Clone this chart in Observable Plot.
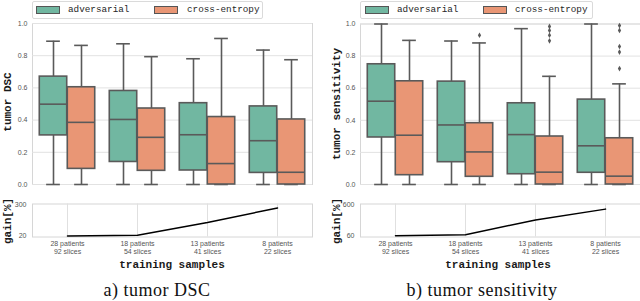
<!DOCTYPE html>
<html><head><meta charset="utf-8">
<script src="https://cdn.jsdelivr.net/npm/d3@7"></script>
<script src="https://cdn.jsdelivr.net/npm/@observablehq/plot@0.6"></script>
<style>
html,body{margin:0;padding:0;background:#fff;}
#wrap{position:relative;width:640px;height:301px;overflow:hidden;background:#fff;}
.abs{position:absolute;}
.rot{position:absolute;transform:translate(-50%,-50%) rotate(-90deg);white-space:nowrap;font:bold 11px "Liberation Mono","DejaVu Sans Mono",monospace;color:#1a1a1a;}
.xl{position:absolute;transform:translate(-50%,-50%);white-space:nowrap;font:bold 11px "Liberation Mono","DejaVu Sans Mono",monospace;color:#1a1a1a;}
.cap{position:absolute;transform:translateX(-50%);white-space:nowrap;font:18px "Liberation Serif","DejaVu Serif",serif;letter-spacing:0.5px;color:#111;}
.leg{position:absolute;top:0.5px;height:18px;border:1px solid #dadada;border-radius:2px;background:#fff;box-sizing:border-box;}
.sw{position:absolute;height:8px;border:1px solid #555;box-sizing:border-box;}
.lt{position:absolute;font:9.3px "Liberation Mono","DejaVu Sans Mono",monospace;color:#262626;white-space:nowrap;line-height:1;}
</style></head><body><div id="wrap"></div>
<script>
// ---- data ----
const patients = [28, 18, 13, 8];
const slices = [92, 54, 41, 22];
const methods = ["adversarial", "cross-entropy"];
const colors = ["#71b7a1", "#e99675"];
// each row: [lower whisker, Q1, median, Q3, upper whisker]
const dscAdversarial = [[0,0.305,0.499,0.670,0.890],[0,0.140,0.404,0.581,0.874],[0,0.087,0.309,0.505,0.781],[0,0.072,0.272,0.485,0.835]];
const dscCrossEntropy = [[0,0.097,0.386,0.604,0.864],[0,0.085,0.293,0.472,0.794],[0,0,0.130,0.419,0.907],[0,0,0.076,0.404,0.775]];
const sensAdversarial = [[0,0.293,0.519,0.749,1.0],[0,0.139,0.371,0.641,0.894],[0,0.064,0.311,0.506,0.971],[0,0.073,0.241,0.529,1.0]];
const sensCrossEntropy = [[0,0.058,0.307,0.643,0.898],[0,0.048,0.203,0.382,0.882],[0,0,0.077,0.299,0.674],[0,0,0.052,0.288,0.627]];
// outliers: [group index, value]
const sensCrossEntropyOutliers = [[1,0.93],[2,0.985],[2,0.96],[2,0.93],[2,0.895],[3,0.99],[3,0.96],[3,0.86],[3,0.825],[3,0.722]];
const gainDSC = [20, 25, 142, 274];
const gainSensitivity = [60, 80, 340, 530];
const yTicks = [0, 0.2, 0.4, 0.6, 0.8, 1.0];
const gainTicksDSC = [20, 300];
const gainTicksSens = [60, 600];

// ---- helpers ----
const groups = patients.map((p, i) => `${p} patients\n${slices[i]} slices`);
const rows = stats => stats.map((s, i) => ({g: groups[i], lo: s[0], q1: s[1], med: s[2], q3: s[3], hi: s[4]}));
const GRAY = "#5a5a5a";
const wrap = document.getElementById("wrap");

function place(el, left, top) {
  el.style.position = "absolute";
  el.style.left = left + "px";
  el.style.top = top + "px";
  wrap.appendChild(el);
}

function boxChart(adv, ce, outliers, marginLeft, marginTop) {
  const width = 320, marginRight = 320 - marginLeft - 280 > 0 ? 320 - marginLeft - 280 : 0;
  const bw = (width - marginLeft - marginRight) / 4;
  const marks = [
    Plot.frame({stroke: "#d6d6d6"}),
    Plot.ruleY(yTicks, {stroke: "#e2e2e2"})
  ];
  [adv, ce].forEach((stats, k) => {
    const data = rows(stats);
    const s = k ? 1 : -1;
    const boxIn = k ? {insetLeft: 0.504 * bw, insetRight: 0.104 * bw} : {insetLeft: 0.104 * bw, insetRight: 0.504 * bw};
    const capIn = k ? {insetLeft: 0.602 * bw, insetRight: 0.202 * bw} : {insetLeft: 0.202 * bw, insetRight: 0.602 * bw};
    const line = {stroke: GRAY, strokeWidth: 1.6};
    marks.push(
      Plot.ruleX(data, {x: "g", y1: "lo", y2: "q1", dx: s * 0.2 * bw, ...line}),
      Plot.ruleX(data, {x: "g", y1: "q3", y2: "hi", dx: s * 0.2 * bw, ...line}),
      Plot.tickY(data, {x: "g", y: "lo", ...capIn, ...line}),
      Plot.tickY(data, {x: "g", y: "hi", ...capIn, ...line}),
      Plot.barY(data, {x: "g", y1: "q1", y2: "q3", fill: colors[k], ...boxIn, ...line}),
      Plot.tickY(data, {x: "g", y: "med", ...boxIn, ...line})
    );
  });
  if (outliers) {
    marks.push(Plot.dot(outliers, {x: d => groups[d[0]], y: d => d[1], dx: 0.2 * bw, symbol: "diamond", r: 1.7, fill: GRAY, stroke: "none"}));
  }
  return Plot.plot({
    width, height: 190, marginLeft, marginRight, marginTop, marginBottom: 6,
    x: {type: "band", domain: groups, padding: 0, axis: null},
    y: {domain: [0, 1], ticks: yTicks, tickFormat: d3.format(".1f"), tickSize: 0, tickPadding: 5, label: null},
    style: {fontFamily: "Liberation Sans, Arial, sans-serif", fontSize: "7px", color: "#555", background: "transparent", overflow: "visible"},
    marks
  });
}

function gainChart(values, ticks, domain, marginLeft) {
  const marginRight = Math.max(0, 320 - marginLeft - 280);
  const data = values.map((v, i) => ({g: groups[i], v}));
  return Plot.plot({
    width: 320, height: 80, marginLeft, marginRight, marginTop: 8.5, marginBottom: 38.5,
    x: {type: "point", domain: groups, padding: 0.5, axis: null},
    y: {domain, ticks, tickFormat: d => String(d), tickSize: 0, tickPadding: 6, label: null},
    style: {fontFamily: "Liberation Sans, Arial, sans-serif", fontSize: "7px", color: "#555", background: "transparent", overflow: "visible"},
    marks: [
      Plot.frame({stroke: "#d6d6d6"}),
      Plot.ruleX(groups, {x: d => d, stroke: "#e0e0e0"}),
      Plot.line(data, {x: "g", y: "v", stroke: "#000", strokeWidth: 1.5}),
      Plot.text(groups, {x: d => d, frameAnchor: "bottom", lineAnchor: "top", dy: 3.5, text: d => d, fontSize: 7, lineHeight: 1.14, fill: "#555"})
    ]
  });
}

place(boxChart(dscAdversarial, dscCrossEntropy, null, 32, 23), 0, 0);
place(boxChart(sensAdversarial, sensCrossEntropy, sensCrossEntropyOutliers, 40, 23.5), 320, 0);
place(gainChart(gainDSC, gainTicksDSC, [10, 310], 32), 0, 195);
place(gainChart(gainSensitivity, gainTicksSens, [40, 620], 40), 320, 195);

// legends
function legend(x0, x1, sw1, t1, sw2, t2) {
  const box = document.createElement("div");
  box.className = "leg"; box.style.left = x0 + "px"; box.style.width = (x1 - x0) + "px";
  wrap.appendChild(box);
  [[sw1, t1, 0], [sw2, t2, 1]].forEach(([s, t, k]) => {
    const sw = document.createElement("div");
    sw.className = "sw"; sw.style.left = s + "px"; sw.style.top = "6px"; sw.style.width = "24px"; sw.style.background = colors[k];
    wrap.appendChild(sw);
    const tx = document.createElement("div");
    tx.className = "lt"; tx.style.left = t + "px"; tx.style.top = "5px"; tx.textContent = methods[k];
    wrap.appendChild(tx);
  });
}
legend(32, 263, 36, 68, 154, 187);
legend(360, 593, 365, 397, 483, 515);

function label(cls, text, x, y) {
  const d = document.createElement("div");
  d.className = cls; d.textContent = text; d.style.left = x + "px"; d.style.top = y + "px";
  wrap.appendChild(d);
}
label("rot", "tumor DSC", 8, 102);
label("rot", "tumor sensitivity", 337, 104);
label("rot", "gain[%]", 8, 220.5);
label("rot", "gain[%]", 337, 221);
label("xl", "training samples", 172, 265);
label("xl", "training samples", 498, 265);
label("cap", "a) tumor DSC", 157, 280);
label("cap", "b) tumor sensitivity", 482, 280);
</script></body></html>
